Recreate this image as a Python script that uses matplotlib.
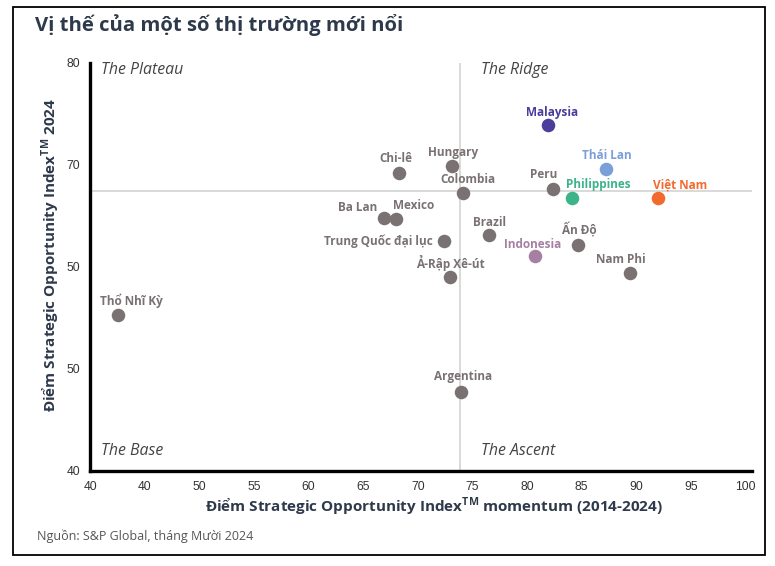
import matplotlib
matplotlib.use("Agg")
import matplotlib.pyplot as plt
from matplotlib import font_manager
from matplotlib.patches import Rectangle

# ---------------- data ----------------
countries = ["Thổ Nhĩ Kỳ", "Argentina", "Chi-lê", "Hungary", "Colombia", "Ba Lan",
             "Mexico", "Trung Quốc đại lục", "Brazil", "Ả-Rập Xê-út", "Malaysia",
             "Thái Lan", "Peru", "Philippines", "Việt Nam", "Ấn Độ", "Indonesia", "Nam Phi"]
momentum = [42.6, 74.0, 68.3, 73.1, 74.1, 66.95, 68.05, 72.4, 76.5, 73.0, 81.9,
            87.2, 82.4, 84.1, 92.0, 84.7, 80.7, 89.4]
score_2024 = [55.3, 47.7, 69.2, 69.9, 67.25, 64.8, 64.7, 62.55, 63.1, 59.0, 73.9,
              69.6, 67.65, 66.8, 66.8, 62.2, 61.05, 59.4]
ref_momentum = 73.85
ref_score = 67.45
x_ticks = [40, 45, 50, 55, 60, 65, 70, 75, 80, 85, 90, 95, 100]
x_tick_labels = ["40", "40", "50", "55", "60", "65", "70", "75", "80", "85", "90", "95", "100"]
y_ticks = [40, 50, 60, 70, 80]
y_tick_labels = ["40", "50", "50", "70", "80"]
quadrants = ["The Plateau", "The Ridge", "The Base", "The Ascent"]

# ---------------- style ----------------
GREY = "#7a7272"
highlight = {"Malaysia": "#4b3d9c", "Thái Lan": "#7b9fd9", "Philippines": "#3db38a",
             "Việt Nam": "#f26a2e", "Indonesia": "#a67fa2"}
# label offsets in pixels (dx, dy) and horizontal alignment
label_pos = {
    "Thổ Nhĩ Kỳ": (13, 14, "center"), "Argentina": (2, 16, "center"),
    "Chi-lê": (-3, 15, "center"), "Hungary": (1, 14, "center"),
    "Colombia": (5, 14, "center"), "Ba Lan": (-7, 11, "right"),
    "Mexico": (-3, 14, "left"), "Trung Quốc đại lục": (-11, 0, "right"),
    "Brazil": (1, 13, "center"), "Ả-Rập Xê-út": (0, 14, "center"),
    "Malaysia": (4, 13, "center"), "Thái Lan": (1, 14, "center"),
    "Peru": (-9, 14, "center"), "Philippines": (-6, 13, "left"),
    "Việt Nam": (-5, 13, "left"), "Ấn Độ": (1, 15, "center"),
    "Indonesia": (-2, 12, "center"), "Nam Phi": (-9, 14, "center"),
}

names = {f.name for f in font_manager.fontManager.ttflist}
narrow = "Liberation Sans Narrow" if "Liberation Sans Narrow" in names else "Liberation Sans"
MAIN = ["Open Sans", "DejaVu Sans"]

plt.rcParams["font.family"] = MAIN
plt.rcParams["mathtext.fontset"] = "custom"
plt.rcParams["mathtext.rm"] = "Open Sans:bold"
plt.rcParams["mathtext.bf"] = "Open Sans:bold"

W, H = 775, 566
fig = plt.figure(figsize=(W / 100, H / 100), dpi=100)
fig.patch.set_facecolor("white")

# outer frame
fig.add_artist(Rectangle((13 / W, 1 - 555 / H), (765 - 13) / W, (555 - 7) / H,
                         transform=fig.transFigure, fill=False, edgecolor="black", lw=1.3))

ax_l, ax_r, ax_t, ax_b = 90, 752, 63, 471
ax = fig.add_axes([ax_l / W, 1 - ax_b / H, (ax_r - ax_l) / W, (ax_b - ax_t) / H])
ax.set_xlim(40, 100.6)
ax.set_ylim(40, 80)

for s in ["top", "right"]:
    ax.spines[s].set_visible(False)
for s in ["left", "bottom"]:
    ax.spines[s].set_linewidth(2.4)
    ax.spines[s].set_color("black")

ax.axhline(ref_score, color="#cfcfcf", lw=1.1, zorder=1)
ax.axvline(ref_momentum, color="#cfcfcf", lw=1.1, zorder=1)

ax.set_xticks(x_ticks)
ax.set_xticklabels(x_tick_labels)
ax.set_yticks(y_ticks)
ax.set_yticklabels(y_tick_labels)
ax.tick_params(length=0, labelsize=8.7, colors="#333333", pad=7)
for lab in ax.get_xticklabels() + ax.get_yticklabels():
    lab.set_fontfamily(narrow)

for name, x, y in zip(countries, momentum, score_2024):
    c = highlight.get(name, GREY)
    ax.scatter([x], [y], s=95, color=c, zorder=3, linewidths=0)
    dx, dy, ha = label_pos[name]
    ax.annotate(name, (x, y), xytext=(dx, dy), textcoords="offset pixels",
                ha=ha, va="center", fontsize=8.5, fontweight="bold", color=c, zorder=4)

qpos = [(0.016, 0.983), (0.59, 0.983), (0.016, 0.05), (0.59, 0.05)]
for q, (qx, qy) in zip(quadrants, qpos):
    ax.text(qx, qy, q, transform=ax.transAxes, fontsize=11.4, style="italic",
            color="#444444", ha="left", va="center")

TXT = "#2e3a4b"
fig.text(35 / W, 1 - 25 / H, "Vị thế của một số thị trường mới nổi", fontsize=14.6,
         fontweight="bold", color=TXT, ha="left", va="center")
fig.text(434 / W, 1 - 507 / H,
         r"Điểm Strategic Opportunity Index$^{\mathrm{TM}}$ momentum (2014-2024)",
         fontsize=11, fontweight="bold", color=TXT, ha="center", va="center")
fig.text(51 / W, 1 - 255 / H, r"Điểm Strategic Opportunity Index$^{\mathrm{TM}}$ 2024",
         fontsize=11, fontweight="bold", color=TXT, ha="center", va="center", rotation=90)
fig.text(37 / W, 1 - 536 / H, "Nguồn: S&P Global, tháng Mười 2024", fontsize=9,
         color="#555555", ha="left", va="center")

fig.savefig("out.png", dpi=100, facecolor="white")
